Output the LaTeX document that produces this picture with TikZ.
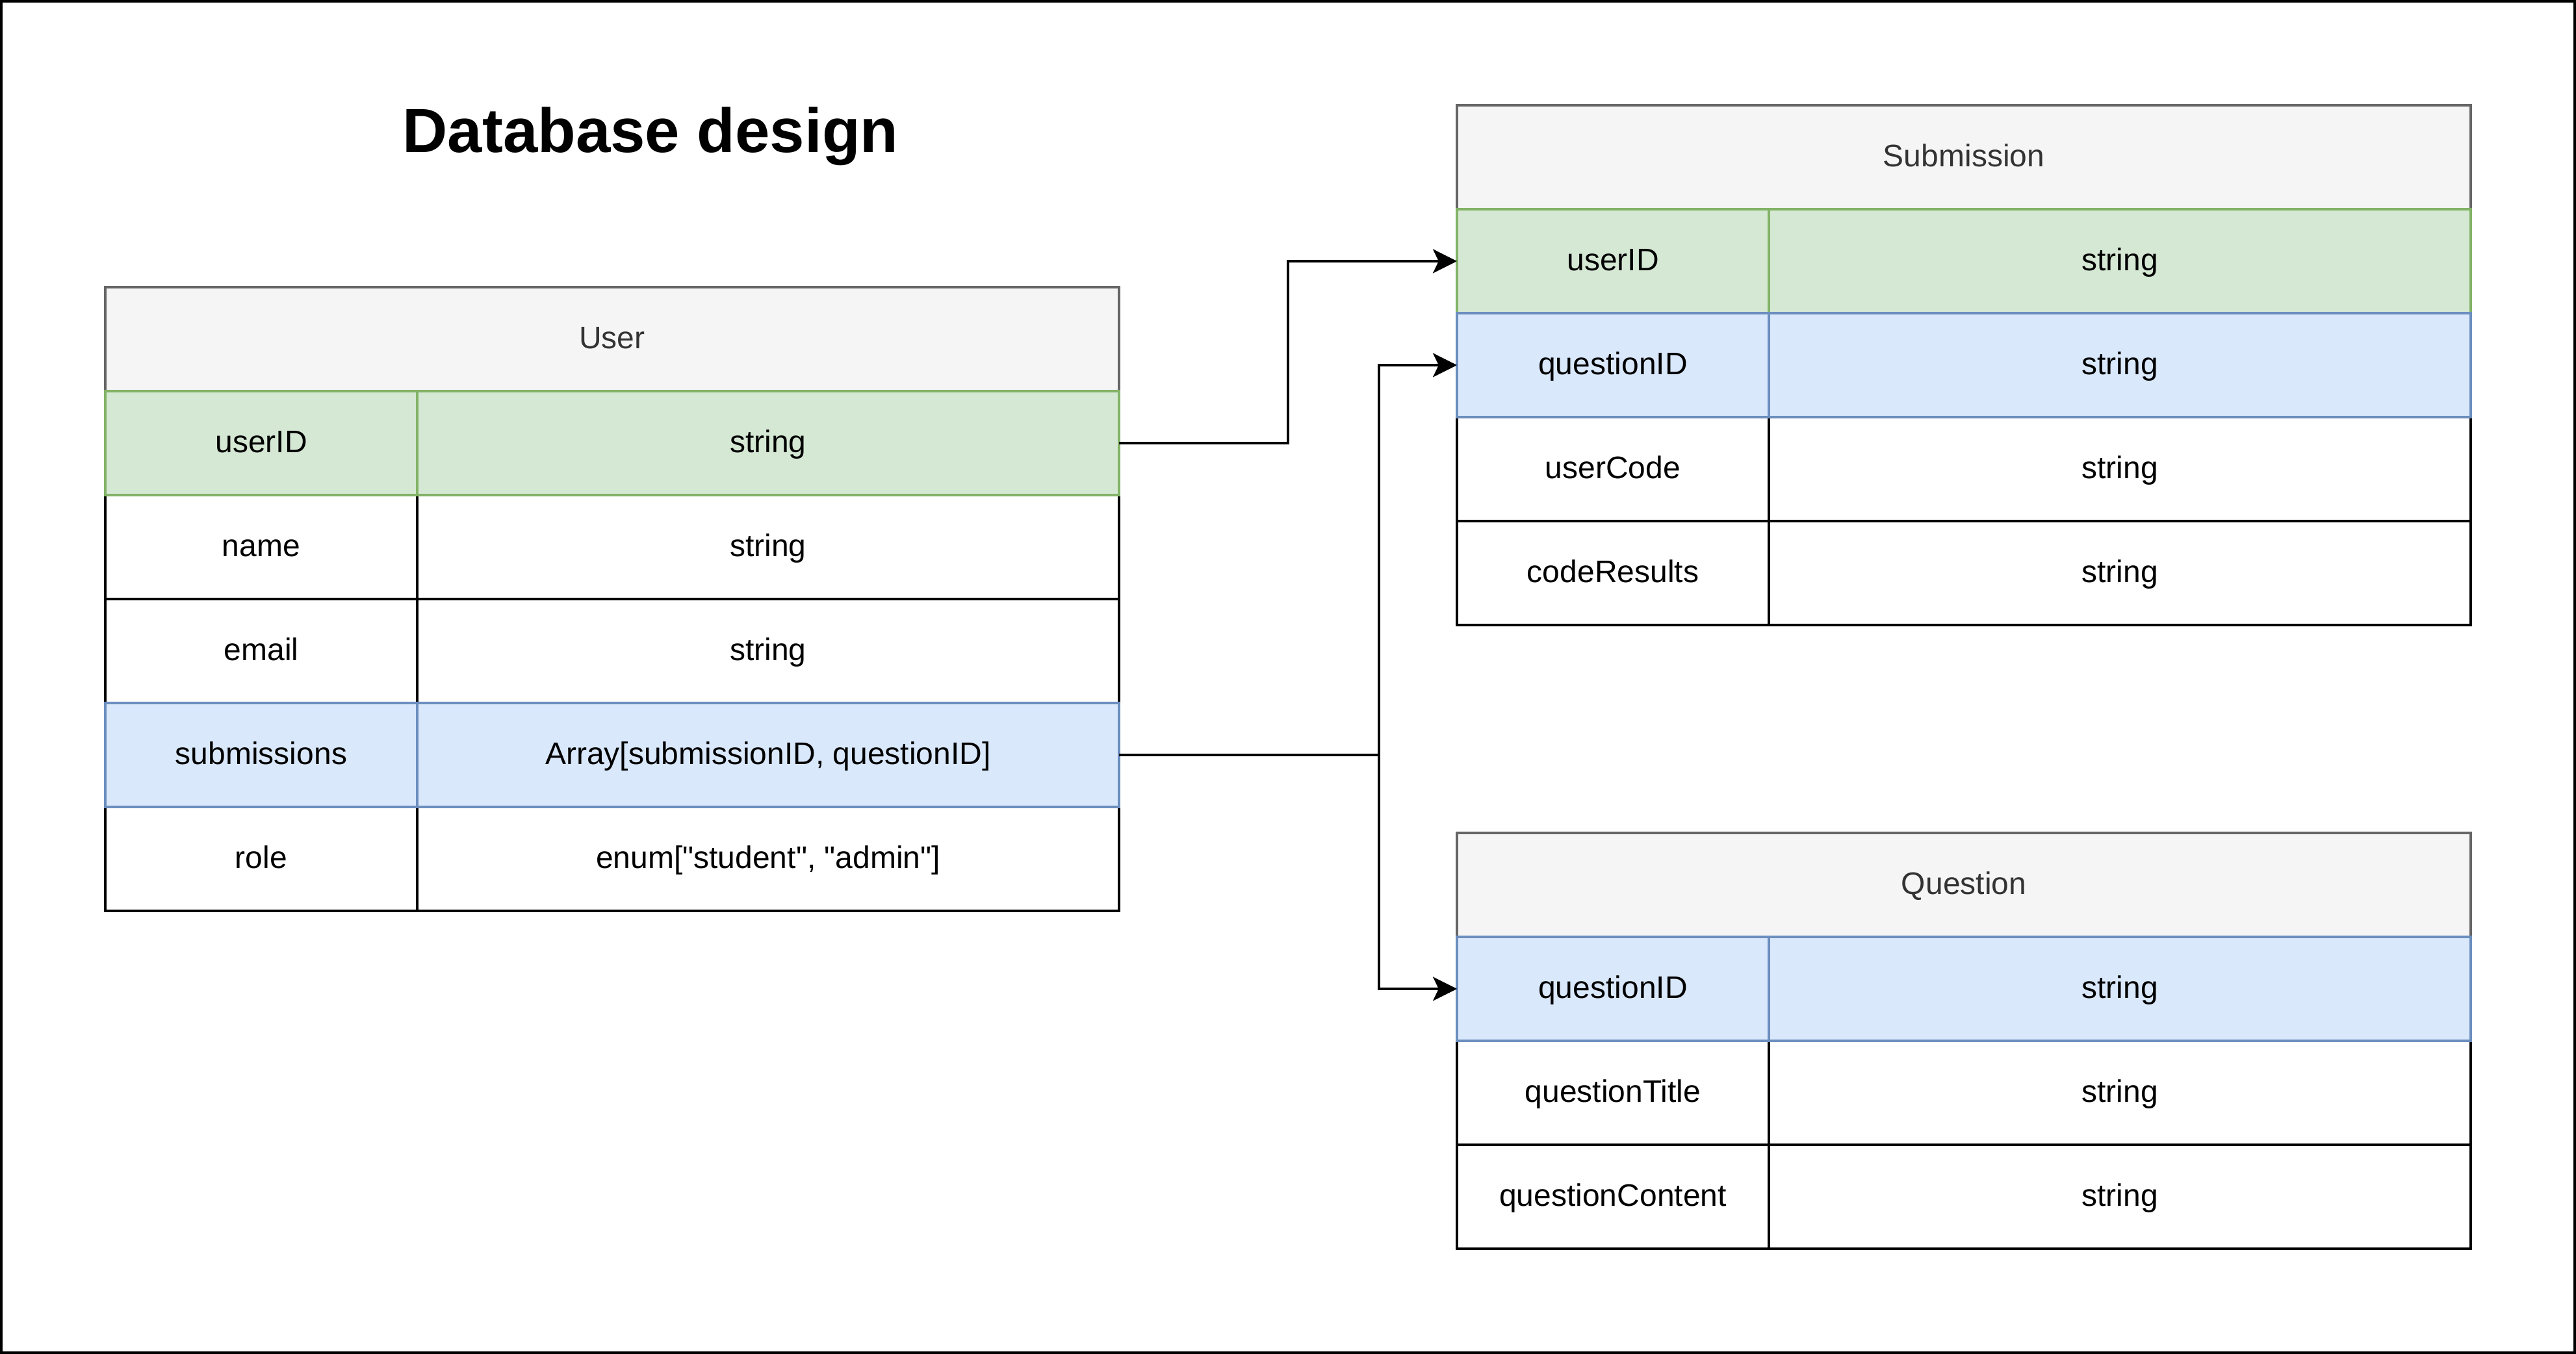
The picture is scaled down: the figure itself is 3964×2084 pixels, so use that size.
\documentclass[tikz,border=0pt]{standalone}
\usepackage{fontspec}
\setmainfont{Liberation Sans}[Ligatures=TeXOff]
\usetikzlibrary{arrows.meta}

\definecolor{hdfill}{HTML}{F5F5F5}
\definecolor{hdline}{HTML}{666666}
\definecolor{hdtext}{HTML}{333333}
\definecolor{pkfill}{HTML}{D5E8D4}
\definecolor{pkline}{HTML}{82B366}
\definecolor{fkfill}{HTML}{DAE8FC}
\definecolor{fkline}{HTML}{6C8EBF}

\tikzset{
  cell/.style={draw, rectangle, inner sep=0pt, outer sep=0pt, anchor=north west,
    minimum height=40pt, line width=0.8pt, font=\fontsize{12}{14}\selectfont,
    text height=9.2pt, text depth=1.8pt},
  keycell/.style={cell, minimum width=120pt},
  valcell/.style={cell, minimum width=270pt},
  headcell/.style={cell, minimum width=390pt, fill=hdfill, draw=hdline, text=hdtext},
  plainrow/.style={fill=white, draw=black},
  pkrow/.style={fill=pkfill, draw=pkline},
  fkrow/.style={fill=fkfill, draw=fkline},
  wire/.style={draw=black, line width=0.85pt},
  link/.style={wire, -{Stealth[length=9.25pt, width=9.25pt, inset=2.2pt]}},
}

\begin{document}
\begin{tikzpicture}[x=0.25pt, y=-0.25pt]
  \useasboundingbox (0,0) rectangle (3964,2084);
  \draw[line width=1pt] (2,2) rectangle (3962,2082);

  % title
  \node[anchor=base, inner sep=0pt, font=\bfseries\fontsize{24}{28}\selectfont] (title) at (1001,235) {Database design};

  % ---- User table ----
  \node[headcell] (uHead) at (162,442) {User};
  \node[keycell, plainrow] (uNameK) at (162,762) {name};
  \node[valcell, plainrow] (uNameV) at (642,762) {string};
  \node[keycell, plainrow] (uMailK) at (162,922) {email};
  \node[valcell, plainrow] (uMailV) at (642,922) {string};
  \node[keycell, plainrow] (uRoleK) at (162,1242) {role};
  \node[valcell, plainrow] (uRoleV) at (642,1242) {enum["student", "admin"]};
  \node[keycell, pkrow] (uUidK) at (162,602) {userID};
  \node[valcell, pkrow] (uUidV) at (642,602) {string};
  \node[keycell, fkrow] (uSubK) at (162,1082) {submissions};
  \node[valcell, fkrow] (uSubV) at (642,1082) {Array[submissionID, questionID]};

  % ---- Submission table ----
  \node[headcell] (sHead) at (2242,162) {Submission};
  \node[keycell, plainrow] (sCodeK) at (2242,642) {userCode};
  \node[valcell, plainrow] (sCodeV) at (2722,642) {string};
  \node[keycell, plainrow] (sResK) at (2242,802) {codeResults};
  \node[valcell, plainrow] (sResV) at (2722,802) {string};
  \node[keycell, pkrow] (sUidK) at (2242,322) {userID};
  \node[valcell, pkrow] (sUidV) at (2722,322) {string};
  \node[keycell, fkrow] (sQidK) at (2242,482) {questionID};
  \node[valcell, fkrow] (sQidV) at (2722,482) {string};

  % ---- Question table ----
  \node[headcell] (qHead) at (2242,1282) {Question};
  \node[keycell, plainrow] (qTitleK) at (2242,1602) {questionTitle};
  \node[valcell, plainrow] (qTitleV) at (2722,1602) {string};
  \node[keycell, plainrow] (qBodyK) at (2242,1762) {questionContent};
  \node[valcell, plainrow] (qBodyV) at (2722,1762) {string};
  \node[keycell, fkrow] (qQidK) at (2242,1442) {questionID};
  \node[valcell, fkrow] (qQidV) at (2722,1442) {string};

  % ---- relations ----
  \coordinate (bendU) at (1982,682);
  \draw[link] (uUidV.east) -- (bendU) |- (sUidK.west);

  \coordinate (fork) at (2122,1162);
  \draw[wire] (uSubV.east) -- (fork);
  \draw[link] (fork) |- (sQidK.west);
  \draw[link] (fork) |- (qQidK.west);
\end{tikzpicture}
\end{document}
